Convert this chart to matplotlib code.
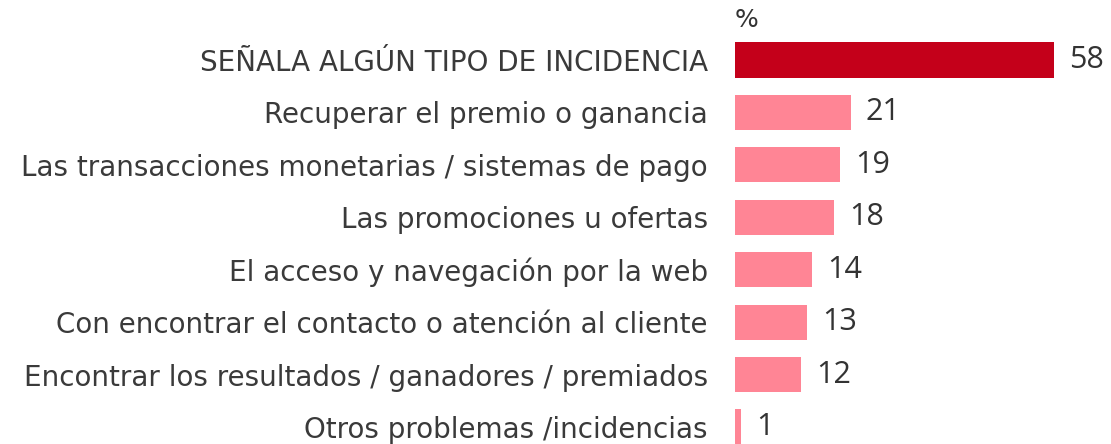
import matplotlib
matplotlib.use("Agg")
import matplotlib.pyplot as plt

categories = [
    "SEÑALA ALGÚN TIPO DE INCIDENCIA",
    "Recuperar el premio o ganancia",
    "Las transacciones monetarias / sistemas de pago",
    "Las promociones u ofertas",
    "El acceso y navegación por la web",
    "Con encontrar el contacto o atención al cliente",
    "Encontrar los resultados / ganadores / premiados",
    "Otros problemas /incidencias",
]
values = [58, 21, 19, 18, 14, 13, 12, 1]
colors = ["#C4001A"] + ["#FF8595"] * 7

W, H = 1111, 444
fig = plt.figure(figsize=(W / 100, H / 100), dpi=100)
ax = fig.add_axes([735 / W, 0, (W - 735) / W, 1])

pos = list(range(len(categories)))
ax.barh(pos, values, height=0.668, color=colors)
ax.set_xlim(0, (W - 735) / 5.5)
ax.set_ylim((444 - 60) / 52.43, -60 / 52.43)

ax.set_yticks(pos)
ax.set_yticklabels(categories, fontsize=20, color="#3a3a3a", family="DejaVu Sans")
ax.tick_params(axis="y", length=0, pad=19.5)
ax.set_xticks([])
for s in ax.spines.values():
    s.set_visible(False)

for p, v in zip(pos, values):
    ax.annotate(str(v), xy=(v, p), xytext=(11, 0), textcoords="offset points",
                va="center", ha="left", fontsize=22, color="#333333",
                family="Open Sans")

ax.text(0, -0.763, "%", ha="left", va="center", fontsize=18, color="#333333",
        family="DejaVu Sans")

fig.savefig("out.png", dpi=100)
